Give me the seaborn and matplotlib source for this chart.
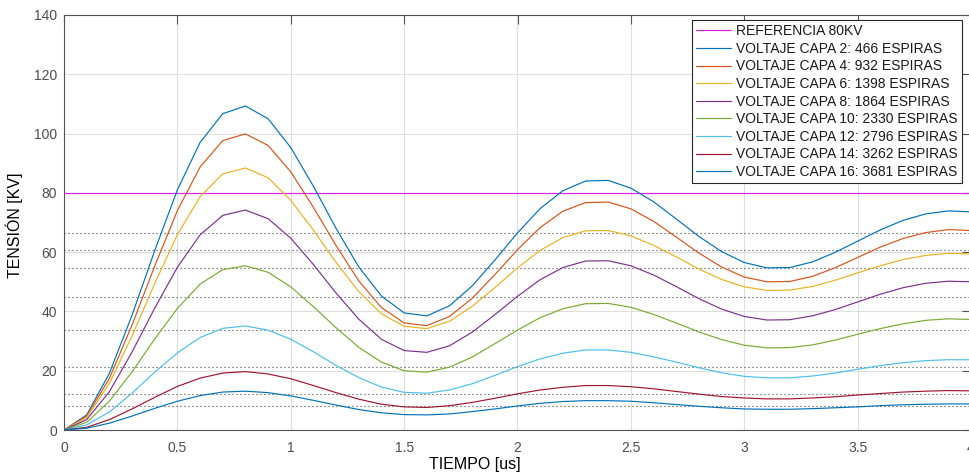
import matplotlib
matplotlib.use("Agg")
import pandas as pd
import matplotlib.pyplot as plt
import seaborn as sns

# tiempo de muestreo [us]
tiempo = [0.0, 0.1, 0.2, 0.3, 0.4, 0.5, 0.6, 0.7, 0.8, 0.9,
          1.0, 1.1, 1.2, 1.3, 1.4, 1.5, 1.6, 1.7, 1.8, 1.9,
          2.0, 2.1, 2.2, 2.3, 2.4, 2.5, 2.6, 2.7, 2.8, 2.9,
          3.0, 3.1, 3.2, 3.3, 3.4, 3.5, 3.6, 3.7, 3.8, 3.9, 4.0]

# tension por capa [KV]
capa_2 = [0, 5.1, 19.1, 38.7, 60.5, 81.0, 97.0, 106.7, 109.3, 105.0,
          95.3, 82.2, 68.0, 55.0, 45.2, 39.5, 38.5, 41.9, 48.6, 57.3,
          66.5, 74.7, 80.7, 84.0, 84.2, 81.6, 77.0, 71.2, 65.3, 60.2,
          56.5, 54.7, 54.8, 56.7, 59.9, 63.7, 67.5, 70.7, 72.9, 73.9, 73.6]
capa_4 = [0, 4.7, 17.4, 35.4, 55.3, 74.0, 88.7, 97.6, 99.9, 96.0,
          87.1, 75.1, 62.2, 50.3, 41.3, 36.1, 35.2, 38.3, 44.4, 52.4,
          60.8, 68.3, 73.8, 76.7, 76.9, 74.6, 70.4, 65.1, 59.7, 55.0,
          51.6, 50.0, 50.1, 51.8, 54.7, 58.2, 61.7, 64.6, 66.6, 67.6, 67.3]
capa_6 = [0, 4.2, 15.7, 31.7, 49.4, 65.9, 78.7, 86.4, 88.4, 85.1,
          77.5, 67.4, 56.5, 46.7, 39.2, 35.0, 34.2, 36.7, 41.7, 48.0,
          54.7, 60.6, 64.9, 67.2, 67.3, 65.5, 62.3, 58.4, 54.3, 50.8,
          48.3, 47.1, 47.2, 48.4, 50.5, 53.0, 55.4, 57.5, 58.9, 59.6, 59.4]
capa_8 = [0, 3.5, 12.9, 26.3, 41.1, 54.9, 65.8, 72.4, 74.2, 71.3,
          64.7, 55.8, 46.2, 37.4, 30.6, 26.8, 26.2, 28.4, 33.0, 38.9,
          45.1, 50.7, 54.8, 57.0, 57.1, 55.4, 52.3, 48.4, 44.3, 40.8,
          38.3, 37.1, 37.2, 38.5, 40.6, 43.2, 45.8, 48.0, 49.5, 50.2, 50.0]
capa_10 = [0, 2.6, 9.7, 19.6, 30.7, 41.0, 49.2, 54.1, 55.4, 53.2,
           48.3, 41.6, 34.5, 27.9, 22.9, 20.0, 19.5, 21.2, 24.6, 29.1,
           33.7, 37.9, 40.9, 42.6, 42.7, 41.4, 39.0, 36.1, 33.1, 30.5,
           28.6, 27.7, 27.8, 28.7, 30.3, 32.3, 34.2, 35.8, 37.0, 37.5, 37.3]
capa_12 = [0, 1.7, 6.1, 12.4, 19.5, 26.0, 31.2, 34.3, 35.1, 33.7,
           30.6, 26.4, 21.8, 17.7, 14.5, 12.7, 12.4, 13.5, 15.6, 18.4,
           21.4, 24.0, 25.9, 27.0, 27.0, 26.2, 24.7, 22.9, 21.0, 19.3,
           18.1, 17.6, 17.6, 18.2, 19.2, 20.5, 21.7, 22.7, 23.4, 23.7, 23.7]
capa_14 = [0, 0.9, 3.5, 7.1, 11.0, 14.7, 17.5, 19.2, 19.7, 18.9,
           17.3, 15.0, 12.6, 10.4, 8.7, 7.8, 7.6, 8.2, 9.3, 10.7,
           12.2, 13.5, 14.4, 15.0, 15.0, 14.6, 13.9, 13.0, 12.1, 11.3,
           10.8, 10.5, 10.5, 10.8, 11.2, 11.8, 12.3, 12.8, 13.1, 13.3, 13.2]
capa_16 = [0, 0.6, 2.3, 4.7, 7.3, 9.7, 11.6, 12.8, 13.1, 12.6,
           11.5, 10.0, 8.4, 6.9, 5.8, 5.2, 5.1, 5.4, 6.2, 7.1,
           8.1, 9.0, 9.6, 9.9, 9.9, 9.7, 9.2, 8.6, 8.0, 7.5,
           7.1, 7.0, 7.0, 7.2, 7.5, 7.8, 8.2, 8.5, 8.7, 8.8, 8.8]

referencia = 80
# valores de regimen (lineas punteadas)
estacionario = [66.3, 60.6, 54.8, 45.0, 33.6, 21.3, 12.2, 8.1]

etiquetas = ["REFERENCIA 80KV",
             "VOLTAJE CAPA 2: 466 ESPIRAS",
             "VOLTAJE CAPA 4: 932 ESPIRAS",
             "VOLTAJE CAPA 6: 1398 ESPIRAS",
             "VOLTAJE CAPA 8: 1864 ESPIRAS",
             "VOLTAJE CAPA 10: 2330 ESPIRAS",
             "VOLTAJE CAPA 12: 2796 ESPIRAS",
             "VOLTAJE CAPA 14: 3262 ESPIRAS",
             "VOLTAJE CAPA 16: 3681 ESPIRAS"]
colores = ["#e020e0", "#0072BD", "#D95319", "#EDB120", "#7E2F8E",
           "#77AC30", "#4DBEEE", "#A2142F", "#0072BD"]

series = [[referencia] * len(tiempo), capa_2, capa_4, capa_6, capa_8,
          capa_10, capa_12, capa_14, capa_16]

rows = []
for nombre, valores in zip(etiquetas, series):
    for t, v in zip(tiempo, valores):
        rows.append({"t": t, "v": v, "serie": nombre})
df = pd.DataFrame(rows)

sns.set_theme(style="white")
plt.rcParams['font.family'] = ['Liberation Sans', 'DejaVu Sans']

fig = plt.figure(figsize=(9.69, 4.72), dpi=100)
ax = fig.add_axes([64 / 969, 42 / 472, 907 / 969, 415 / 472])

# lineas de regimen
for v in estacionario:
    ax.axhline(v, color='#404040', lw=0.8, ls=(0, (1, 2.6)), zorder=1)

sns.lineplot(data=df, x="t", y="v", hue="serie", hue_order=etiquetas,
             palette=dict(zip(etiquetas, colores)), lw=0.85, ax=ax,
             zorder=3, sort=False)

ax.set_xlim(0, 4)
ax.set_ylim(0, 140)
ax.set_xticks([0, 0.5, 1, 1.5, 2, 2.5, 3, 3.5, 4])
ax.set_xticklabels(["0", "0.5", "1", "1.5", "2", "2.5", "3", "3.5", "4"])
ax.set_yticks(range(0, 141, 20))

ax.grid(True, color='#dedede', lw=0.8)
ax.set_axisbelow(True)
for s in ax.spines.values():
    s.set_color('#555555')
    s.set_linewidth(0.8)

ax.tick_params(direction='in', length=6.5, width=0.8, color='#555555',
               labelcolor='#4d4d4d', labelsize=10, top=True, right=True)
ax.tick_params(axis='x', pad=8)
ax.tick_params(axis='y', pad=5)

ax.set_xlabel("TIEMPO [us]", fontsize=11.5, color='black')
ax.set_ylabel("TENSIÓN [KV]", fontsize=11.5, color='black')
ax.xaxis.set_label_coords(0.453, -0.066)
ax.yaxis.set_label_coords(-0.045, 0.494)

handles, labels = ax.get_legend_handles_labels()
leg = ax.legend(handles, labels, loc='upper right',
                bbox_to_anchor=(0.990, 0.988), borderaxespad=0,
                fontsize=10, frameon=True, fancybox=False, framealpha=1,
                edgecolor='#262626', borderpad=0.3, labelspacing=0.26,
                handlelength=2.5, handletextpad=0.4)
leg.get_frame().set_linewidth(0.8)
for txt in leg.get_texts():
    txt.set_color('#1a1a1a')

fig.savefig("out.png", dpi=100)
